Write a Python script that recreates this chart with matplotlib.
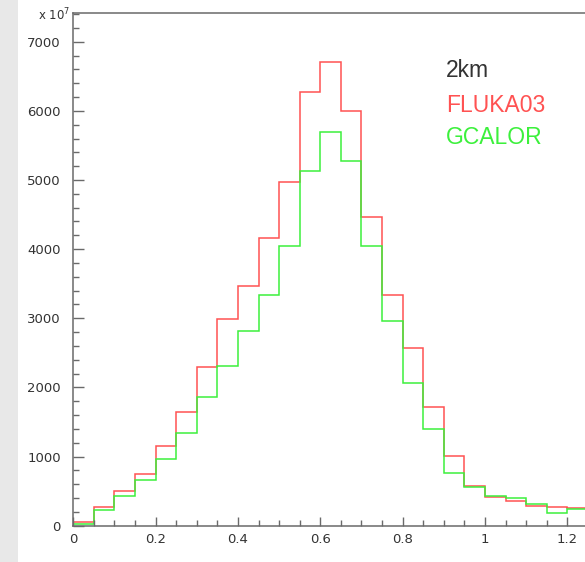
import numpy as np
import matplotlib
matplotlib.use("Agg")
import matplotlib.pyplot as plt
from matplotlib.patches import Rectangle
from matplotlib.ticker import MultipleLocator, FuncFormatter

# bin edges (0.05 wide) and contents, in units of 1e7
bin_edges = np.round(np.arange(0, 1.30001, 0.05), 2)
fluka03 = [60, 270, 505, 745, 1155, 1640, 2300, 2990, 3470, 4155,
           4975, 6270, 6700, 6000, 4470, 3340, 2570, 1710, 1010, 575,
           420, 362, 285, 266, 250, 235]
gcalor = [25, 228, 425, 656, 960, 1336, 1855, 2310, 2816, 3337,
          4045, 5130, 5690, 5280, 4050, 2960, 2069, 1400, 767, 564,
          430, 396, 318, 184, 246, 230]

RED = "#ff5252"
GREEN = "#3cf03c"
AXC = "#6a6a6a"

fig = plt.figure(figsize=(5.85, 5.62), dpi=100)
fig.patch.set_facecolor("white")
fig.patches.append(Rectangle((0, 0), 18 / 585, 1, transform=fig.transFigure,
                             facecolor="#e8e8e8", edgecolor="none", zorder=0))

ax = fig.add_axes([73.3 / 585, 36.3 / 562, 535.2 / 585, 513.0 / 562])
ax.stairs(fluka03, bin_edges, baseline=None, color=RED, lw=1.1)
ax.stairs(gcalor, bin_edges, baseline=None, color=GREEN, lw=1.1)

ax.set_xlim(0, 1.3)
ax.set_ylim(0, 7420)

ax.xaxis.set_major_locator(MultipleLocator(0.2))
ax.xaxis.set_minor_locator(MultipleLocator(0.05))
ax.yaxis.set_major_locator(MultipleLocator(1000))
ax.yaxis.set_minor_locator(MultipleLocator(200))
ax.xaxis.set_major_formatter(FuncFormatter(lambda v, p: f"{v:g}"))
ax.yaxis.set_major_formatter(FuncFormatter(lambda v, p: f"{v:.0f}"))

ax.tick_params(which="both", direction="in", colors=AXC, labelcolor="#333333",
               labelsize=9.5, width=1.0, top=False, right=False)
ax.tick_params(axis="y", which="major", length=8, pad=9)
ax.tick_params(axis="y", which="minor", length=4.5)
ax.tick_params(axis="x", which="major", length=6.5, pad=5)
ax.tick_params(axis="x", which="minor", length=4)
for sp in ax.spines.values():
    sp.set_color(AXC)
    sp.set_linewidth(1.1)

fig.text(70 / 585, 1 - 20.5 / 562, r"x 10$^{7}$", ha="right", va="baseline",
         fontsize=8.5, color="#333333")

ax.text(446 / 585, 1 - 77 / 562, "2km", transform=fig.transFigure,
        fontsize=16.5, family="Liberation Sans", color="#333333", va="baseline")
ax.text(446 / 585, 1 - 111.7 / 562, "FLUKA03", transform=fig.transFigure,
        fontsize=16.5, family="Liberation Sans", color=RED, va="baseline")
ax.text(446 / 585, 1 - 144.3 / 562, "GCALOR", transform=fig.transFigure,
        fontsize=16.5, family="Liberation Sans", color=GREEN, va="baseline")

fig.savefig("out.png", dpi=100)
